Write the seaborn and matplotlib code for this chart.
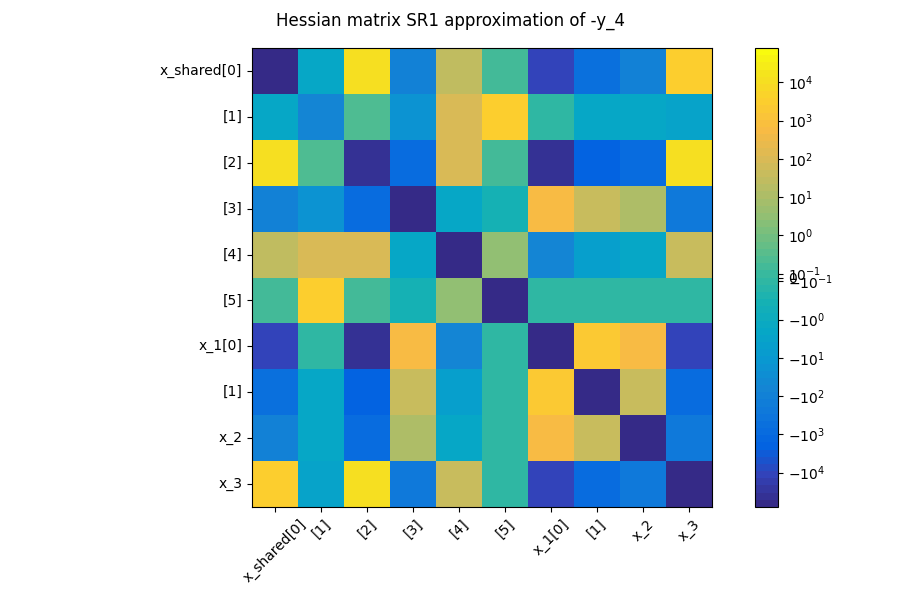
import matplotlib.pyplot as plt
import numpy as np
import seaborn as sns
from matplotlib.colors import LinearSegmentedColormap, SymLogNorm

labels = ['x_shared[0]', '[1]', '[2]', '[3]', '[4]', '[5]', 'x_1[0]', '[1]', 'x_2', 'x_3']

# upper triangle of the hessian (it is symmetric), row by row
upper = [
    [-7.9e4, -2, 1.15e4, -110, 27, 0.13, -1.1e4, -550, -110, 3000],
    [-65, 0.23, -17, 100, 3000, -0.12, -2, -1.8, -3],
    [-4e4, -850, 100, 0.15, -4e4, -2000, -1000, 1.2e4],
    [-6e4, -2, -0.37, 550, 42, 11, -190],
    [-6e4, 3.1, -65, -4.8, -2, 40],
    [-6e4, -0.12, -0.05, -0.05, -0.05],
    [-6e4, 2000, 550, -1.1e4],
    [-6e4, 42, -850],
    [-6e4, -190],
    [-6e4],
]

n = len(labels)
H = np.zeros((n, n))
for i, row in enumerate(upper):
    H[i, i:] = row
    H[i:, i] = row

# matlab parula, every 4th of the 64 entries
parula = [
    (0.2081, 0.1663, 0.5292), (0.1959, 0.2645, 0.7279), (0.0117, 0.3875, 0.8820),
    (0.0498, 0.4586, 0.8641), (0.0793, 0.5200, 0.8312), (0.0343, 0.5966, 0.8199),
    (0.0228, 0.6535, 0.7768), (0.0843, 0.6928, 0.7062), (0.2178, 0.7250, 0.6193),
    (0.3953, 0.7459, 0.5244), (0.5709, 0.7485, 0.4494), (0.7184, 0.7411, 0.3905),
    (0.8507, 0.7299, 0.3360), (0.9739, 0.7314, 0.2666), (0.9880, 0.8066, 0.1794),
    (0.9589, 0.8949, 0.1132), (0.9763, 0.9831, 0.0538),
]
pos = np.array(list(range(0, 64, 4)) + [63]) / 63
cmap = LinearSegmentedColormap.from_list('parula', list(zip(pos, parula)), N=64)

vmax = np.abs(H).max()
norm = SymLogNorm(linthresh=0.1, linscale=0.09, vmin=-vmax, vmax=vmax, base=10)

fig = plt.figure(figsize=(9, 6), dpi=100)
ax = fig.add_axes([0.28, 0.155, 0.511, 0.765])
cax = fig.add_axes([0.839, 0.155, 0.0256, 0.765])

sns.heatmap(H, cmap=cmap, norm=norm, ax=ax, cbar_ax=cax,
            xticklabels=labels, yticklabels=labels)

for s in ax.spines.values():
    s.set_visible(True)
    s.set_linewidth(0.8)
ax.set_xticklabels(labels, rotation=45, ha='center')
ax.set_yticklabels(labels, rotation=0, va='center')

cb = ax.collections[0].colorbar
cb.outline.set_linewidth(0.8)
cb.set_ticks([-1e4, -1e3, -1e2, -1e1, -1, -0.1, 0, 0.1, 1, 10, 100, 1e3, 1e4])
cb.minorticks_off()

fig.suptitle('Hessian matrix SR1 approximation of -y_4')
fig.savefig('out.png', dpi=100)
